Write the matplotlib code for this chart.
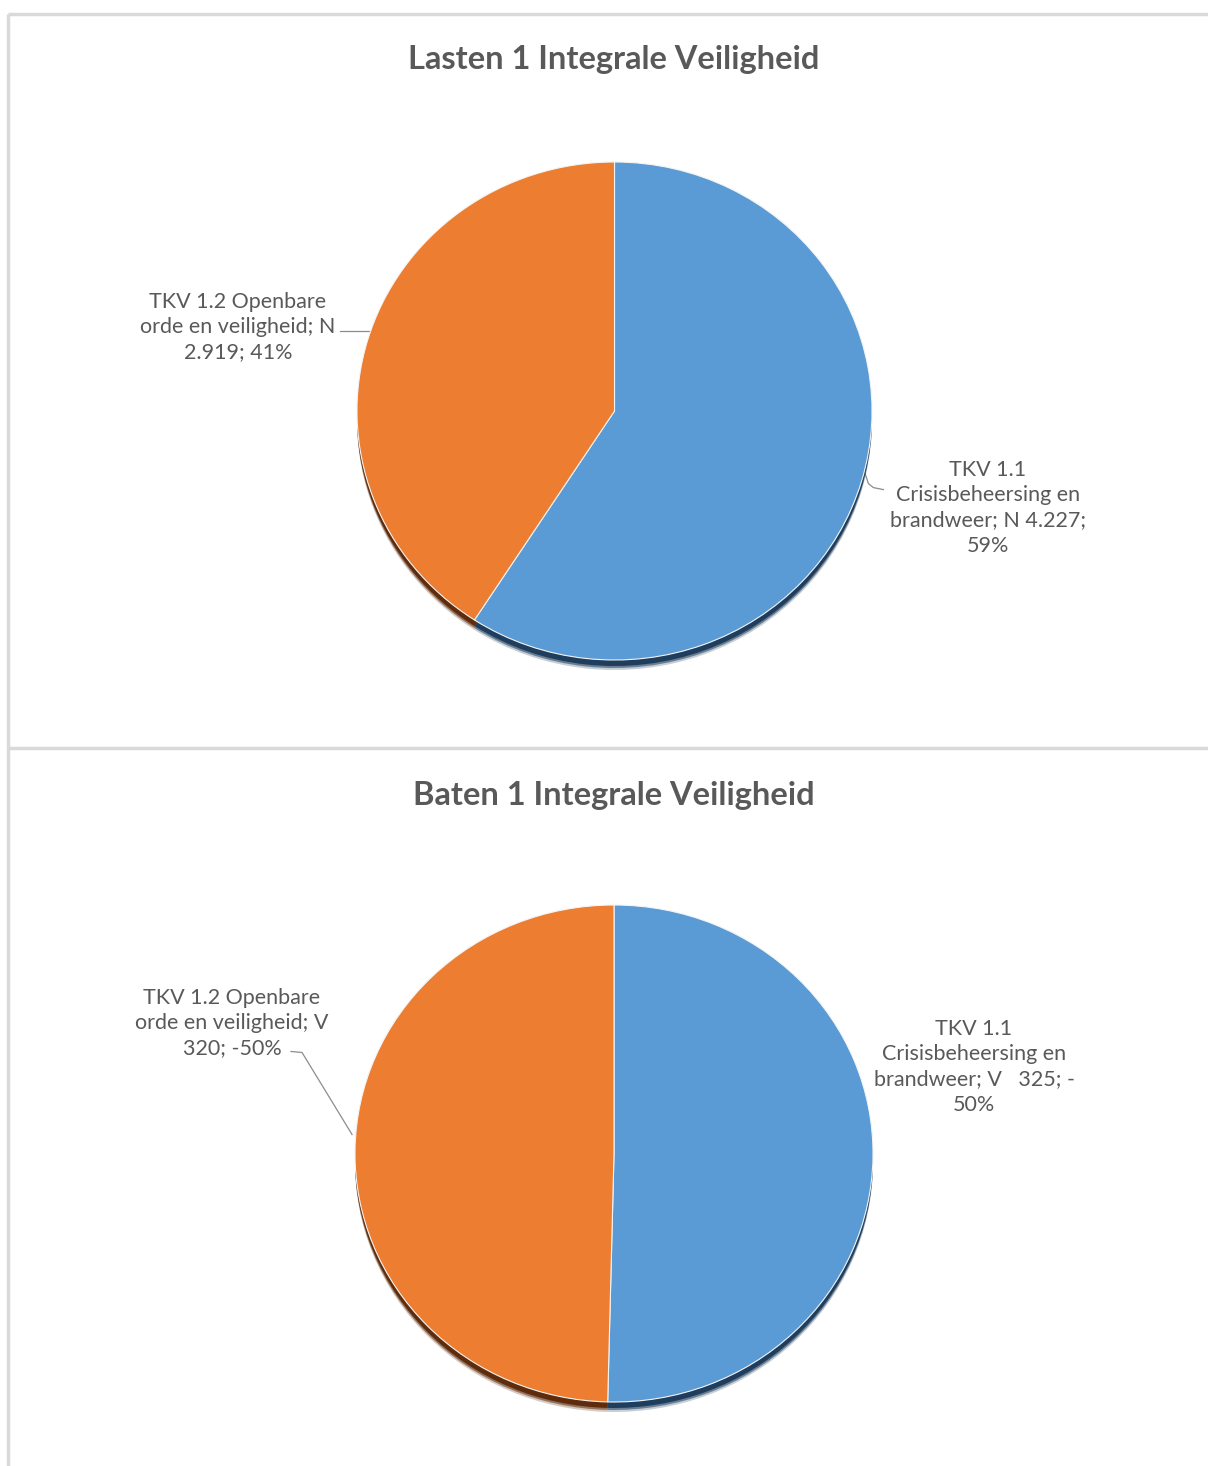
import numpy as np
import matplotlib.pyplot as plt

plt.rcParams['font.family'] = ['Lato', 'DejaVu Sans']

# Lasten (expenses) per taakveld, x 1.000
lasten_labels = ['TKV 1.1\nCrisisbeheersing en\nbrandweer; N 4.227;\n59%',
                 'TKV 1.2 Openbare\norde en veiligheid; N\n2.919; 41%']
lasten_values = [4227, 2919]

# Baten (income) per taakveld, x 1.000
baten_labels = ['TKV 1.1\nCrisisbeheersing en\nbrandweer; V   325; -\n50%',
                'TKV 1.2 Openbare\norde en veiligheid; V\n320; -50%']
baten_values = [325, 320]

titles = ['Lasten 1 Integrale Veiligheid', 'Baten 1 Integrale Veiligheid']
colors = ['#5B9BD5', '#ED7D31']
shadow_colors = ['#1f3d5c', '#5e2c0c']
text_color = '#595959'

W, H = 1208, 1466
fig = plt.figure(figsize=(W / 100, H / 100), dpi=100)

# background axes in pixel units (y measured from the top)
bg = fig.add_axes([0, 0, 1, 1])
bg.set_xlim(0, W)
bg.set_ylim(H, 0)
bg.axis('off')

frame = dict(color='#d9d9d9', lw=2.5, solid_capstyle='butt')
bg.plot([8, W], [14, 14], **frame)
bg.plot([8, W], [748, 748], **frame)
bg.plot([8, 8], [14, H], **frame)

lbl = dict(ha='center', va='center', fontsize=15.5, color=text_color,
           linespacing=1.32)
lead = dict(color='#8c8c8c', lw=0.9)


def draw_pie(values, cx, cy, rx, ry):
    """Pie centred at pixel (cx, cy) with radii rx, ry; returns an
    edge-point function in background pixel coordinates."""
    m = 20
    ax = fig.add_axes([(cx - rx - m) / W, (H - cy - ry - m) / H,
                       (2 * rx + 2 * m) / W, (2 * ry + 2 * m) / H])
    sy = 1.0 / ry  # one pixel in vertical data units
    for dy, a in [(10, 0.25), (8, 0.55), (6, 1.0)]:
        ax.pie(values, startangle=90, counterclock=False, colors=shadow_colors,
               center=(0, -dy * sy), radius=1, frame=True,
               wedgeprops=dict(linewidth=0, alpha=a))
    wedges, _ = ax.pie(values, startangle=90, counterclock=False, colors=colors,
                       radius=1, frame=True,
                       wedgeprops=dict(linewidth=0.8, edgecolor='#f4f4f4'))
    ax.set_aspect('auto')
    ax.set_xlim(-1 - m / rx, 1 + m / rx)
    ax.set_ylim(-1 - m / ry, 1 + m / ry)
    ax.axis('off')

    def edge(i):
        t = np.deg2rad((wedges[i].theta1 + wedges[i].theta2) / 2)
        return cx + rx * np.cos(t), cy - ry * np.sin(t)
    return edge


# Lasten
edge = draw_pie(lasten_values, 614.5, 411, 257.5, 249)
bg.text(614, 60, titles[0], ha='center', va='center', fontsize=23.5,
        fontweight='bold', color=text_color)
bg.text(988, 508, lasten_labels[0], **lbl)
bg.text(238, 327, lasten_labels[1], **lbl)
x, y = edge(0)
bg.plot([x + 3, x + 7, x + 12, x + 22], [y - 10, y + 2, y + 6, y + 8], **lead)
x, y = edge(1)
bg.plot([x + 1, x - 28], [y - 9, y - 9], **lead)

# Baten
edge = draw_pie(baten_values, 614, 1153.5, 259, 248.5)
bg.text(614, 795, titles[1], ha='center', va='center', fontsize=23.5,
        fontweight='bold', color=text_color)
bg.text(974, 1067, baten_labels[0], **lbl)
bg.text(232, 1023, baten_labels[1], **lbl)
x, y = edge(1)
bg.plot([x - 3, x - 53, x - 64], [y - 16, y - 98, y - 99], **lead)

fig.savefig('out.png', dpi=100, facecolor='white')
